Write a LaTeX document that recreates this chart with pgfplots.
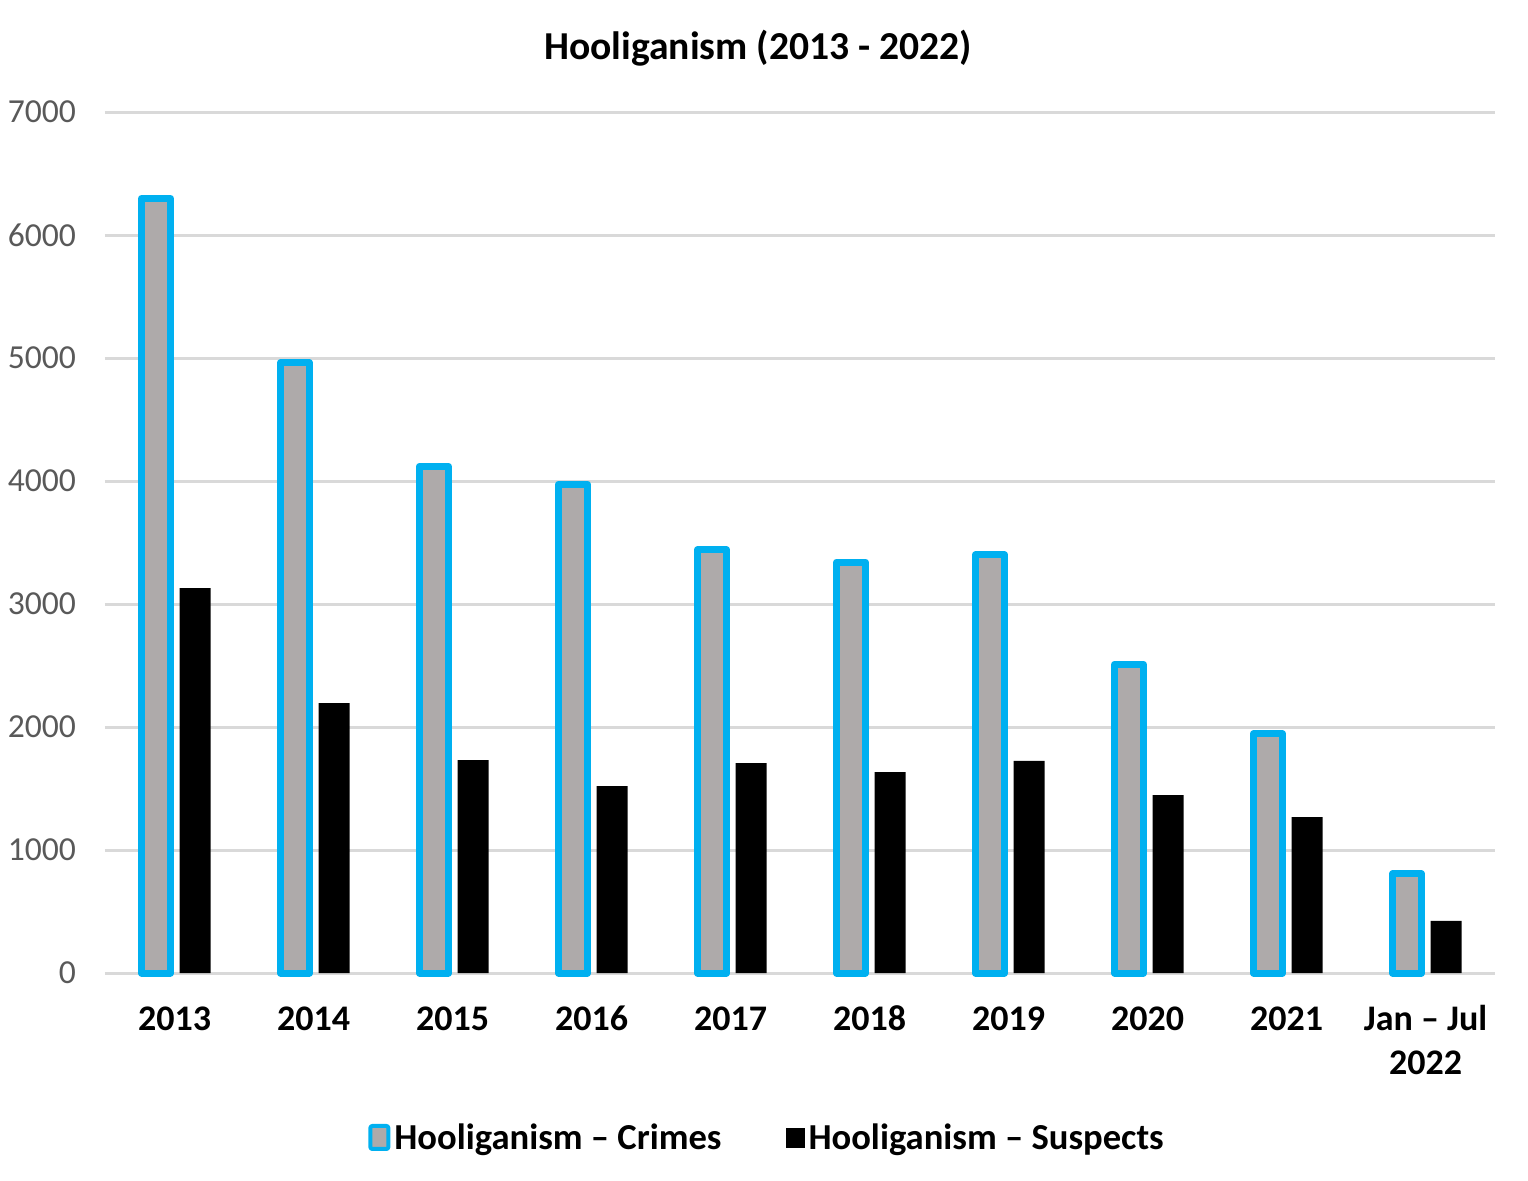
\documentclass[border=0pt]{standalone}
\usepackage{pgfplots}
\pgfplotsset{compat=1.18}
\usepackage{fontspec}
\setmainfont{Carlito}
\definecolor{cyanout}{HTML}{00B0F0}
\definecolor{barfill}{HTML}{AEAAAA}
\definecolor{gridc}{HTML}{D9D9D9}
\definecolor{tickc}{HTML}{595959}
\begin{document}
\begin{tikzpicture}
\path[use as bounding box] (0,0) rectangle (764pt,590pt);
\node[font=\fontsize{19.8}{24}\selectfont\bfseries] at (379pt,566pt) {Hooliganism (2013 - 2022)};
\begin{axis}[
  at={(52.5pt,103.5pt)}, anchor=south west,
  scale only axis, width=695pt, height=430.5pt,
  xmin=-0.5, xmax=9.5, ymin=0, ymax=7000,
  ytick={0,1000,...,7000},
  xtick={0,...,9},
  xticklabels={\strut 2013,\strut 2014,\strut 2015,\strut 2016,\strut 2017,\strut 2018,\strut 2019,\strut 2020,\strut 2021,{\strut Jan -- Jul\\2022}},
  xticklabel style={font=\fontsize{18}{22}\selectfont\bfseries, align=center, yshift=-10pt},
  yticklabel style={font=\fontsize{16.8}{19}\selectfont, text=tickc, xshift=-11pt},
  /pgf/number format/assume math mode=true,
  /pgf/number format/1000 sep={},
  axis line style={draw=none},
  major tick length=0pt,
  ymajorgrids, grid style={gridc, line width=1.5pt},
  clip=false,
  legend columns=2,
  legend style={at={(0.477,-0.1916)}, anchor=center, draw=none, fill=none,
    font=\fontsize{18.3}{21}\selectfont\bfseries,
    /tikz/every even column/.append style={column sep=30pt}},
]
\addplot[ybar, bar width=14.5pt, bar shift=-9.25pt, draw=cyanout, fill=barfill, line width=3.5pt, line join=round,
  area legend,
  legend image code/.code={\draw[cyanout, fill=barfill, line width=2pt, rounded corners=1pt] (0pt,-5.5pt) rectangle (9pt,6pt);}]
coordinates {(0,6297) (1,4960) (2,4120) (3,3975) (4,3440) (5,3340) (6,3400) (7,2510) (8,1945) (9,805)};
\addlegendentry{Hooliganism -- Crimes}
\addplot[ybar, bar width=15.5pt, bar shift=10.25pt, draw=none, fill=black,
  area legend,
  legend image code/.code={\fill[black] (0pt,-5pt) rectangle (9.5pt,5pt);}]
coordinates {(0,3130) (1,2195) (2,1730) (3,1520) (4,1707) (5,1634) (6,1724) (7,1447) (8,1268) (9,423)};
\addlegendentry{Hooliganism -- Suspects}
\end{axis}
\end{tikzpicture}
\end{document}
